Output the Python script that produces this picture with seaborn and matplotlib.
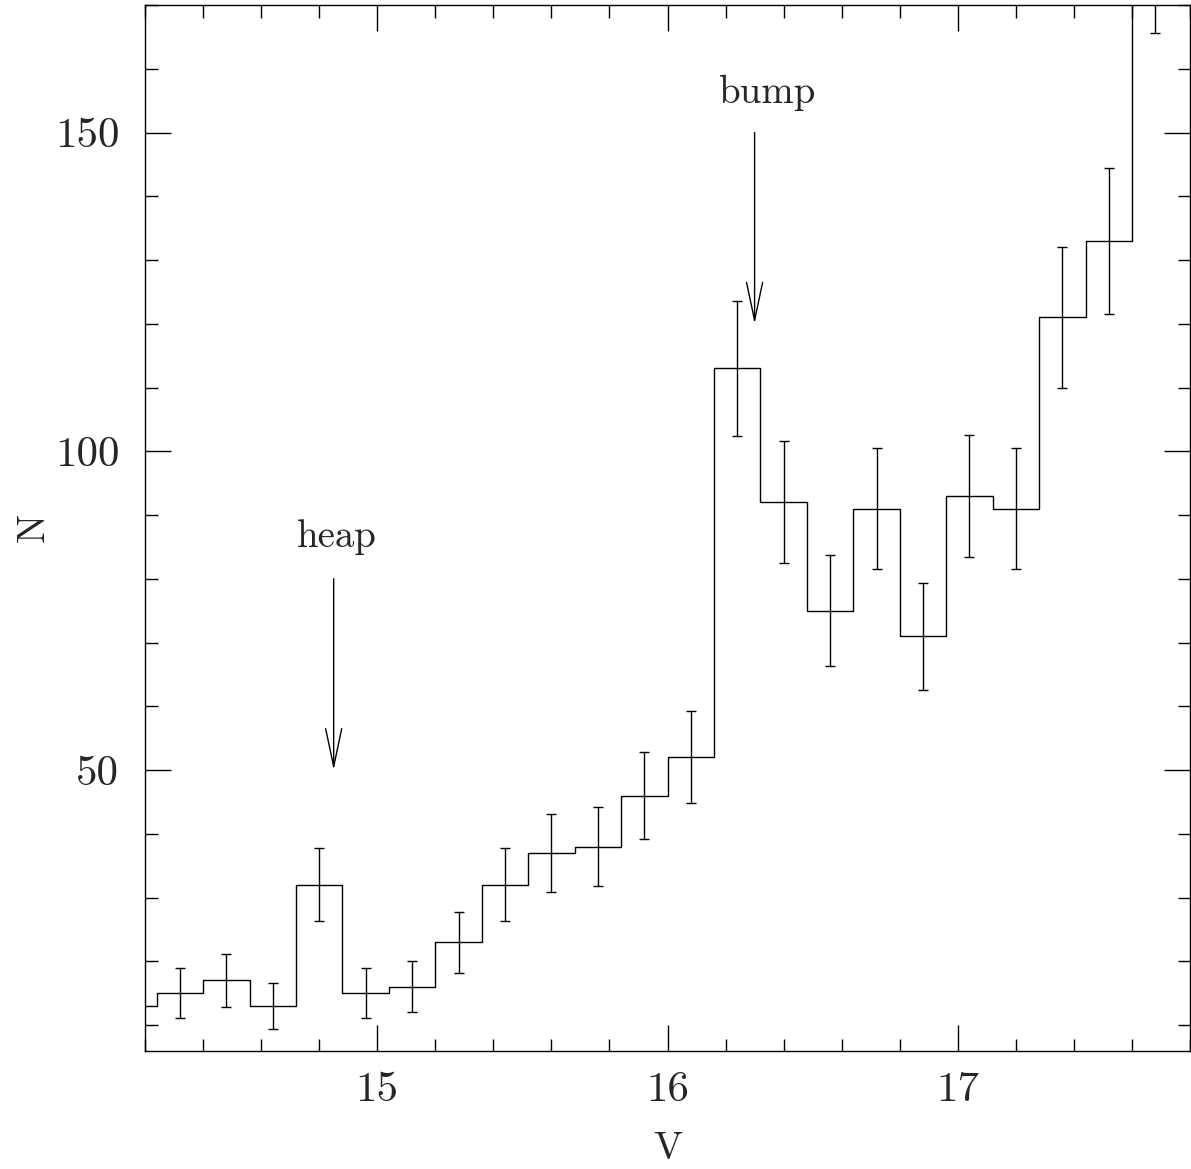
import numpy as np
import pandas as pd
import matplotlib
matplotlib.use("Agg")
import matplotlib.pyplot as plt
import seaborn as sns

# Luminosity function of the red-giant branch: star counts per 0.16 mag bin
bin_edges = [14.08, 14.24, 14.40, 14.56, 14.72, 14.88, 15.04, 15.20, 15.36,
             15.52, 15.68, 15.84, 16.00, 16.16, 16.32, 16.48, 16.64, 16.80,
             16.96, 17.12, 17.28, 17.44, 17.60, 17.76]
counts = [13, 15, 17, 13, 32, 15, 16, 23, 32, 37, 38, 46, 52,
          113, 92, 75, 91, 71, 93, 91, 121, 133, 179]
count_errors = [3.6, 3.9, 4.1, 3.6, 5.7, 3.9, 4.0, 4.8, 5.7, 6.1, 6.2, 6.8,
                7.2, 10.6, 9.6, 8.7, 9.5, 8.4, 9.6, 9.5, 11.0, 11.5, 13.4]

# Features marked on the histogram: label, V of the arrow, arrow tail/tip N, label position
feature_names = ["heap", "bump"]
feature_v = [14.85, 16.30]
arrow_tail_n = [80, 150]
arrow_tip_n = [50, 120]
label_v = [14.862, 16.345]
label_n = [85, 154.7]

x_ticks = [15, 16, 17]
y_ticks = [50, 100, 150]

edges = np.array(bin_edges)
centers = 0.5 * (edges[:-1] + edges[1:])
df = pd.DataFrame({"V": centers, "N": counts, "err": count_errors})

sns.set_style("ticks")
plt.rcParams["font.family"] = ["cmr10", "DejaVu Serif"]
plt.rcParams["axes.unicode_minus"] = False
plt.rcParams["axes.formatter.use_mathtext"] = True

fig = plt.figure(figsize=(11.91, 11.69), dpi=100)
ax = fig.add_axes([145 / 1191, 1 - 1050.5 / 1169, 1045 / 1191, 1045.5 / 1169])

sns.histplot(data=df, x="V", weights="N", bins=list(bin_edges), element="step",
             fill=False, color="black", linewidth=1.0, ax=ax)

ax.errorbar(df["V"], df["N"], yerr=df["err"], fmt="none", ecolor="black",
            elinewidth=1.0, capsize=3.6, capthick=1.0)

for name, xv, tail, tip, lx, ly in zip(feature_names, feature_v, arrow_tail_n,
                                        arrow_tip_n, label_v, label_n):
    ax.annotate("", xy=(xv, tip), xytext=(xv, tail),
                arrowprops=dict(arrowstyle="->,head_length=1.37,head_width=0.29",
                                mutation_scale=20, color="black", lw=1.0,
                                shrinkA=0, shrinkB=0))
    ax.text(lx, ly, name, ha="center", va="baseline", fontsize=28)

ax.set_xlim(14.2, 17.76)
ax.set_ylim(6, 170)
ax.set_xticks(x_ticks)
ax.set_yticks(y_ticks)
ax.set_xticks(np.arange(14.2, 17.8, 0.2), minor=True)
ax.set_yticks(np.arange(10, 171, 10), minor=True)
ax.set_xticklabels([str(t) for t in x_ticks])
ax.set_yticklabels([str(t) for t in y_ticks])

ax.tick_params(which="both", direction="in", top=True, right=True,
               width=1.0, color="black")
ax.tick_params(which="major", length=18.5)
ax.tick_params(which="minor", length=9)
ax.tick_params(axis="x", which="major", labelsize=31, pad=15)
ax.tick_params(axis="y", which="major", labelsize=31, pad=18.5)

for side in ["left", "right", "top", "bottom"]:
    ax.spines[side].set_visible(True)
    ax.spines[side].set_linewidth(1.0)
    ax.spines[side].set_color("black")

ax.set_xlabel("V", fontsize=28, labelpad=16)
ax.set_ylabel("N", fontsize=28, labelpad=2)

fig.savefig("out.png", dpi=100)
